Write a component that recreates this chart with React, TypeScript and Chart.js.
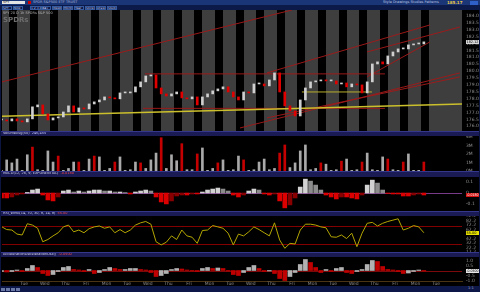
import React, { useEffect, useRef } from "react";
import { Chart, registerables } from "chart.js";

Chart.register(...registerables);

// ---------------- data ----------------
const dayLabels = ["Tue", "Wed", "Thu", "Fri", "Mon", "Tue", "Wed", "Thu", "Fri", "Mon", "Tue", "Wed", "Thu", "Fri", "Mon", "Tue", "Wed", "Thu", "Fri", "Mon", "Tue"];
const sessionStarts = [-1, 0, 1, 2, 3, 4, 5, 6, 7, 8, 9, 10, 11, 12, 13, 14, 15, 16, 17, 18, 19, 20];
const firstBarDay = -0.75;
const barsPerDay = 4;

const closes = [
  176.46, 176.39, 176.54, 176.39, 176.32, 176.54, 177.41, 177.55, 176.9, 176.46,
  176.61, 176.68, 177.04, 177.48, 177.04, 177.33, 177.26, 177.62, 177.77, 177.91,
  178.13, 178.06, 177.99, 178.42, 178.42, 178.49, 178.86, 179.22, 179.65, 179.72,
  178.78, 178.35, 178.2, 178.35, 178.49, 178.06, 177.99, 178.13, 177.55, 178.13,
  178.35, 178.57, 178.71, 178.86, 178.49, 178.13, 177.91, 178.49, 178.42, 179.07,
  179.07, 178.93, 179.36, 179.87, 178.49, 177.48, 177.12, 176.75, 177.91, 178.78,
  179.22, 179.29, 179.36, 179.29, 179.29, 179.07, 179.14, 178.86, 179.07, 179.0,
  178.42, 179.22, 180.52, 180.67, 180.52, 181.1, 181.39, 181.61, 181.61, 181.9,
  181.97, 181.97, 182.12,
];

const volumes = [
  0.08, 1.3, 0.95, 1.4, 0.08, 1.9, 2.8, 0.15, 0.08, 2.35,
  1.05, 1.75, 0.08, 0.3, 1.05, 1.05, 0.08, 1.4, 1.75, 1.65,
  0.08, 0.3, 1.05, 1.65, 0.08, 0.15, 1.05, 0.95, 0.3, 1.3,
  2.1, 3.9, 0.3, 1.9, 1.2, 3.2, 0.15, 0.15, 2.0, 2.7,
  0.08, 0.3, 0.95, 1.3, 0.08, 0.15, 1.75, 1.3, 0.08, 0.15,
  1.05, 1.4, 0.15, 0.3, 2.1, 3.05, 0.4, 0.95, 2.35, 3.05,
  0.15, 0.3, 0.95, 0.8, 0.08, 0.15, 1.15, 1.4, 0.08, 0.15,
  1.05, 2.1, 0.15, 0.08, 1.65, 1.4, 0.15, 0.08, 1.05, 2.0,
  0.08, 0.08, 1.05,
];
const volumeDownBars = [6, 11, 15, 18, 22, 27, 31, 35, 38, 42, 47, 54, 55, 62, 66, 70, 75, 78, 82];

const macdHist = [
  -0.045, -0.045, -0.036, -0.018, -0.009, 0.005, 0.027, 0.036, -0.018, -0.063,
  -0.072, -0.036, 0.018, 0.027, 0.009, 0.018, 0.009, 0.018, 0.027, 0.027,
  0.018, 0.018, 0.009, 0.009, 0.004, -0.009, 0.009, 0.018, 0.027, 0.018,
  -0.036, -0.081, -0.099, -0.072, -0.027, -0.018, -0.018, -0.009, -0.009, 0.009,
  0.027, 0.036, 0.045, 0.036, 0.018, -0.018, -0.036, -0.018, 0.018, 0.036,
  0.027, -0.009, -0.018, -0.009, -0.072, -0.135, -0.108, -0.045, 0.054, 0.126,
  0.108, 0.072, 0.027, -0.018, -0.036, -0.054, -0.036, -0.036, -0.045, -0.054,
  -0.018, 0.072, 0.117, 0.09, 0.027, -0.004, -0.009, -0.009, -0.027, -0.027,
  -0.018, -0.009, -0.018,
];

const rsiValues = [
  68.5, 62, 61, 52, 50, 75, 72, 65, 35, 40,
  48, 55, 68, 72, 57, 61, 55, 64, 68, 70,
  65, 68, 55, 62, 55, 61, 72, 77, 80, 74,
  35, 28, 34, 48, 40, 61, 48, 45, 31.5, 60,
  61, 71, 68, 65, 54, 28, 52, 48, 57, 68,
  62, 55, 48, 77, 39, 20.4, 31.5, 30, 61, 74,
  74, 72, 68, 66, 46, 45, 50, 42, 54, 24,
  54, 76, 78, 70, 76, 80, 83, 86, 61, 65,
  71, 68, 55,
];

const oscValues = [
  -0.1, -0.15, -0.1, 0.05, -0.1, 0.2, 0.5, 0.3, -0.3, -0.5,
  -0.4, -0.1, 0.3, 0.4, 0.1, 0.05, -0.1, 0.1, -0.3, -0.2,
  0.1, 0.3, 0.2, 0.1, 0.1, 0.2, 0.2, 0.1, 0.05, -0.2,
  -0.6, -0.5, -0.3, 0.1, 0.2, 0.15, 0.05, -0.05, -0.1, 0.2,
  0.3, 0.2, 0.25, 0.2, -0.05, -0.4, -0.5, -0.2, 0.3, 0.5,
  0.2, -0.1, -0.05, -0.3, -0.8, -1.0, -0.6, -0.2, 0.6, 1.1,
  0.8, 0.3, -0.2, 0.1, -0.1, 0.2, 0.3, -0.2, -0.3, -0.1,
  0.1, 0.6, 1.0, 0.9, 0.4, 0.1, 0.05, -0.1, -0.3, -0.25,
  -0.1, 0.05, -0.05,
];

const movingAverage = [[-0.728, 176.72], [6.456, 177.02], [13.98, 177.31], [21.6, 177.62]];
const redTrendLines = [
  [[-0.728, 179.22], [13.35, 184.43]],
  [[12.136, 179.87], [20.05, 183.35]],
  [[16.99, 181.39], [21.5, 183.2]],
  [[16.99, 179.58], [20.05, 182.12]],
  [[10.825, 175.88], [21.5, 179.87]],
  [[12.136, 176.61], [21.5, 179.58]],
  [[6.21, 179.8], [17.86, 179.8]],
  [[6.12, 177.3], [17.86, 177.3]],
];
const yellowLevels = [[[13.83, 178.49], [17.23, 178.49]]];
const rsiLevels = [70, 30];

// ---------------- layout constants ----------------
const T_MIN = -0.728;
const T_MAX = 21.602;
const SESSION_LEN = 0.607;
const PRICE_MIN = 175.66;
const PRICE_MAX = 184.43;
const FONT = '"DejaVu Sans", sans-serif';
const CANVAS_W = 478;

const barDays = closes.map((_, i) => firstBarDay + i / barsPerDay);

const hiddenX = (): any => ({ type: "linear", min: T_MIN, max: T_MAX, offset: false, display: false });

const rightAxis = (min: number, max: number, step: number, extraTicks: any = {}): any => ({
  position: "right",
  min,
  max,
  grid: { display: false, drawTicks: false },
  border: { display: false },
  ticks: {
    stepSize: step,
    includeBounds: false,
    autoSkip: false,
    color: "#8e8e8e",
    font: { size: 4.5, family: FONT },
    padding: 4,
    ...extraTicks,
  },
  afterFit: (s: any) => {
    s.width = 17;
    s.paddingTop = 0;
    s.paddingBottom = 0;
  },
});

const baseOptions = (x: any, y: any): any => ({
  animation: false,
  responsive: false,
  maintainAspectRatio: false,
  events: [],
  layout: { padding: { left: 1, right: 0, top: 0, bottom: 0 } },
  plugins: { legend: { display: false }, tooltip: { enabled: false } },
  scales: { x, y },
});

const bandsPlugin = {
  id: "sessionBands",
  beforeDatasetsDraw(chart: any) {
    const { ctx, chartArea: a, scales } = chart;
    const x = scales.x;
    ctx.save();
    ctx.fillStyle = "#3e3e3e";
    sessionStarts.forEach((d, i) => {
      const last = i === sessionStarts.length - 1;
      const x1 = Math.max(a.left, Math.round(x.getPixelForValue(d)));
      const x2 = last ? a.right : Math.min(a.right, Math.round(x.getPixelForValue(d + SESSION_LEN)));
      if (x2 > x1) ctx.fillRect(x1, a.top, x2 - x1, a.bottom - a.top);
    });
    ctx.restore();
  },
};

const levelLines = (levels: { v: number; color: string }[]) => ({
  id: "levelLines",
  beforeDatasetsDraw(chart: any) {
    const { ctx, chartArea: a, scales } = chart;
    ctx.save();
    ctx.lineWidth = 1;
    levels.forEach((l) => {
      const py = Math.round(scales.y.getPixelForValue(l.v)) + 0.5;
      ctx.strokeStyle = l.color;
      ctx.beginPath();
      ctx.moveTo(a.left, py);
      ctx.lineTo(a.right, py);
      ctx.stroke();
    });
    ctx.restore();
  },
});

const valueBox = (value: number, bg: string, fg: string, digits: number) => ({
  id: "valueBox",
  afterDraw(chart: any) {
    const { ctx, chartArea: a, scales } = chart;
    const y = Math.round(scales.y.getPixelForValue(value));
    const x0 = a.right + 4;
    const w = chart.width - x0;
    ctx.save();
    ctx.fillStyle = bg;
    ctx.fillRect(x0, y - 2, w, 4);
    ctx.fillStyle = fg;
    ctx.font = `3.5px ${FONT}`;
    ctx.textBaseline = "middle";
    ctx.textAlign = "left";
    ctx.fillText(value.toFixed(digits), x0 + 0.5, y + 0.3, w - 1);
    ctx.restore();
  },
});

const lineDs = (pts: number[][], color: string, width: number, order: number): any => ({
  type: "line",
  data: pts.map(([x, y]) => ({ x, y })),
  borderColor: color,
  borderWidth: width,
  pointRadius: 0,
  tension: 0,
  order,
});

const Txt = ({ s, left, top, color, size = 4.5, bold = false }: any) => (
  <div
    style={{
      position: "absolute",
      left,
      top,
      color,
      fontSize: size,
      lineHeight: `${size + 1}px`,
      whiteSpace: "nowrap",
      fontWeight: bold ? 700 : 400,
    }}
  >
    {s}
  </div>
);

const Header = ({ top, height, label, value, valueColor }: any) => (
  <div
    style={{
      position: "absolute",
      left: 1,
      top,
      width: CANVAS_W,
      height,
      background: "#1a1b55",
      borderTop: "1px solid #34378c",
      boxSizing: "border-box",
      overflow: "hidden",
    }}
  >
    <span style={{ position: "absolute", left: 2, top: -1, fontSize: 3.5, lineHeight: "5px", color: "#d0d0ea", whiteSpace: "nowrap" }}>
      {label}
      <span style={{ color: valueColor, marginLeft: 2 }}>{value}</span>
    </span>
  </div>
);

export default function App() {
  const mainRef = useRef<HTMLCanvasElement>(null);
  const volRef = useRef<HTMLCanvasElement>(null);
  const macdRef = useRef<HTMLCanvasElement>(null);
  const rsiRef = useRef<HTMLCanvasElement>(null);
  const oscRef = useRef<HTMLCanvasElement>(null);

  useEffect(() => {
    Chart.defaults.font.family = FONT;
    const charts: Chart[] = [];

    // ----- main price panel -----
    const opens = closes.map((c, i) => (i === 0 ? c : closes[i - 1]));
    const candleColors = closes.map((c, i) => (c >= opens[i] ? "#cfcfcf" : "#e00000"));
    const mainDatasets: any[] = [
      {
        type: "bar",
        data: closes.map((c, i) => ({ x: barDays[i], y: [opens[i], c] })),
        backgroundColor: candleColors,
        barThickness: 2,
        minBarLength: 1,
        order: 0,
      },
      lineDs(movingAverage, "#cbbf2c", 1.5, 1),
      ...yellowLevels.map((seg) => lineDs(seg, "#b8ad2a", 1, 1)),
      ...redTrendLines.map((seg) => lineDs(seg, "rgba(160,25,25,0.95)", 1, 2)),
    ];
    charts.push(
      new Chart(mainRef.current!, {
        type: "bar",
        data: { datasets: mainDatasets },
        options: baseOptions(hiddenX(), rightAxis(PRICE_MIN, PRICE_MAX, 0.5)),
        plugins: [bandsPlugin, valueBox(closes[closes.length - 1], "#d6d6d6", "#000", 2)],
      } as any)
    );

    // ----- volume -----
    charts.push(
      new Chart(volRef.current!, {
        type: "bar",
        data: {
          datasets: [
            {
              data: volumes.map((v, i) => ({ x: barDays[i], y: v })),
              backgroundColor: volumes.map((_, i) => (volumeDownBars.includes(i) ? "#c40000" : "#a9a9a9")),
              barThickness: 2,
            },
          ],
        },
        options: baseOptions(hiddenX(), rightAxis(0, 4.1, 1, { callback: (v: number) => `${v}M` })),
      } as any)
    );

    // ----- MACD histogram -----
    const macdColors = macdHist.map((v, i) => {
      const prev = i === 0 ? v : macdHist[i - 1];
      if (v >= 0) return v >= prev ? "#d2d2d2" : "#8c8c8c";
      return v <= prev ? "#dc0000" : "#8a0000";
    });
    charts.push(
      new Chart(macdRef.current!, {
        type: "bar",
        data: {
          datasets: [
            {
              data: macdHist.map((v, i) => ({ x: barDays[i], y: v })),
              backgroundColor: macdColors,
              barThickness: 4,
            },
          ],
        },
        options: baseOptions(hiddenX(), rightAxis(-0.1636, 0.1455, 0.1)),
        plugins: [
          levelLines([{ v: 0, color: "#7a3a8a" }]),
          valueBox(macdHist[macdHist.length - 1], "#d41010", "#fff", 4),
        ],
      } as any)
    );

    // ----- RSI -----
    charts.push(
      new Chart(rsiRef.current!, {
        type: "line",
        data: {
          datasets: [
            {
              data: rsiValues.map((v, i) => ({ x: barDays[i], y: v })),
              borderColor: "#b3a600",
              borderWidth: 1,
              pointRadius: 0,
              tension: 0,
            },
          ],
        },
        options: baseOptions(hiddenX(), rightAxis(12.2, 92.2, 10)),
        plugins: [
          levelLines(rsiLevels.map((v) => ({ v, color: "#820000" }))),
          valueBox(rsiValues[rsiValues.length - 1], "#e6e000", "#000", 2),
        ],
      } as any)
    );

    // ----- Acceleration/Deceleration oscillator -----
    const oscColors = oscValues.map((v, i) => (i > 0 && v < oscValues[i - 1] ? "#c00000" : "#b2b2b2"));
    const tickDays = sessionStarts.filter((d) => d >= 0).map((d) => d + 0.35);
    charts.push(
      new Chart(oscRef.current!, {
        type: "bar",
        data: {
          datasets: [
            {
              data: oscValues.map((v, i) => ({ x: barDays[i], y: v })),
              backgroundColor: oscColors,
              barThickness: 4,
            },
          ],
        },
        options: baseOptions(
          {
            type: "linear",
            min: T_MIN,
            max: T_MAX,
            offset: false,
            position: "bottom",
            grid: { display: false, drawTicks: false },
            border: { display: true, color: "#4a3412", width: 1 },
            afterBuildTicks: (s: any) => {
              s.ticks = tickDays.map((v) => ({ value: v }));
            },
            ticks: {
              autoSkip: false,
              maxRotation: 0,
              minRotation: 0,
              color: "#8a8a8a",
              font: { size: 4.5, family: FONT },
              padding: 0,
              callback: (_v: number, i: number) => dayLabels[i],
            },
            afterFit: (s: any) => {
              s.height = 5;
              s.paddingLeft = 0;
              s.paddingRight = 0;
            },
          },
          rightAxis(-1.05, 1.35, 0.5)
        ),
        plugins: [
          levelLines([{ v: 0, color: "#7c0a0a" }]),
          valueBox(oscValues[oscValues.length - 1], "#e6e6e6", "#000", 4),
        ],
      } as any)
    );

    return () => charts.forEach((c) => c.destroy());
  }, []);

  const canvasStyle = (top: number, height: number): any => ({
    position: "absolute",
    left: 1,
    top,
    width: CANVAS_W,
    height,
    background: "#000",
  });

  return (
    <div
      style={{
        position: "fixed",
        left: 0,
        top: 0,
        width: 480,
        height: 292,
        background: "#0b1540",
        overflow: "hidden",
        fontFamily: FONT,
      }}
    >
      {/* toolbar */}
      <div style={{ position: "absolute", left: 0, top: 0, width: 480, height: 5, background: "#1b3676" }} />
      <div style={{ position: "absolute", left: 0, top: 5, width: 480, height: 5, background: "#0c1a4a" }} />
      <div style={{ position: "absolute", left: 2, top: 1, width: 23, height: 3, background: "#e4e4e4" }} />
      <Txt s="SPY" left={3} top={0} color="#202020" size={3.5} />
      <div style={{ position: "absolute", left: 28, top: 1, width: 3, height: 3, background: "#d00000" }} />
      <Txt s="SPDR S&P500 ETF TRUST" left={33} top={-0.5} color="#a8b2d8" size={3.5} />
      {["SPY", "Now", "1 2 3 4 5", "Day", "Week", "Month", "Year", "Style", "Draw", "Study"].map((s, i) => (
        <div
          key={i}
          style={{
            position: "absolute",
            left: 2 + i * 11 + (i > 1 ? 6 : 0),
            top: 5.5,
            width: i === 2 ? 16 : 10,
            height: 4,
            border: "1px solid #35599e",
            boxSizing: "border-box",
            fontSize: 3,
            lineHeight: "3px",
            color: "#c8d0f0",
            overflow: "hidden",
            whiteSpace: "nowrap",
          }}
        >
          {s}
        </div>
      ))}
      <Txt s="Style   Drawings   Studies   Patterns" left={383} top={-0.5} color="#b8c2e2" size={3.5} />
      <Txt s="185.17" left={447} top={-0.5} color="#e8c848" size={4} bold />
      <div style={{ position: "absolute", left: 470, top: 0.5, width: 8, height: 4, background: "#2f60c8" }} />

      {/* main panel */}
      <canvas ref={mainRef} width={CANVAS_W} height={121} style={canvasStyle(10, 121)} />
      <Txt s="SPY 20 D 1h   SPDRs S&P 500" left={3} top={10.5} color="#b0b0b0" size={3.5} />
      <Txt s="SPDRs" left={3} top={16} color="#6e6e6e" size={7} bold />

      {/* volume */}
      <Header top={131} height={5} label="VolumeAvg(50)" value="246,455" valueColor="#c8c8ff" />
      <canvas ref={volRef} width={CANVAS_W} height={35} style={canvasStyle(136, 35)} />

      {/* MACD */}
      <Header top={171} height={6} label="MACD(12, 26, 9, EXPONENTIAL)" value="-0.0180" valueColor="#ff4a4a" />
      <canvas ref={macdRef} width={CANVAS_W} height={34} style={canvasStyle(177, 34)} />

      {/* RSI */}
      <Header top={211} height={5} label="RSI_WMA(14, 70, 30, 9, 14, 9)" value="55.00" valueColor="#ff4a4a" />
      <canvas ref={rsiRef} width={CANVAS_W} height={36} style={canvasStyle(216, 36)} />

      {/* AC oscillator */}
      <Header top={252} height={5} label="AccelerationDecelerationOsc()" value="-0.0500" valueColor="#ff4a4a" />
      <canvas ref={oscRef} width={CANVAS_W} height={29} style={canvasStyle(257, 29)} />

      {/* status bar */}
      <div style={{ position: "absolute", left: 0, top: 286, width: 480, height: 6, background: "#0d1848" }} />
      {[0, 1, 2, 3].map((i) => (
        <div key={i} style={{ position: "absolute", left: 1 + i * 5, top: 287.5, width: 4, height: 3, background: "#6a78a6" }} />
      ))}
      <Txt s="1:1" left={468} top={286} color="#a0a8c8" size={3.5} />
    </div>
  );
}
